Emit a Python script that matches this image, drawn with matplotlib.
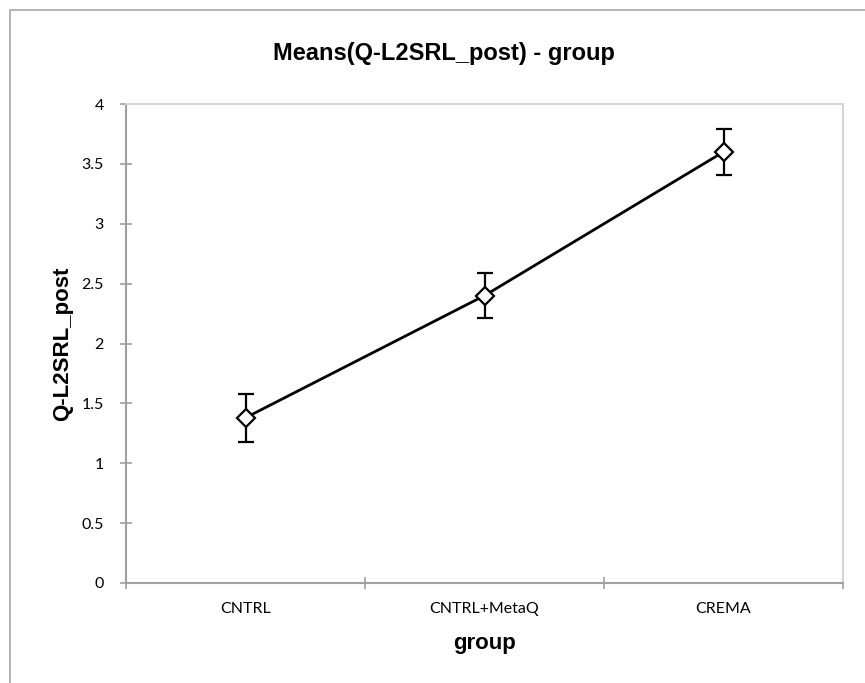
import matplotlib
matplotlib.use("Agg")
import matplotlib.pyplot as plt
from matplotlib.patches import Rectangle

# data
groups = ["CNTRL", "CNTRL+MetaQ", "CREMA"]
means = [1.38, 2.40, 3.60]
errors = [0.20, 0.19, 0.19]
y_ticks = [0, 0.5, 1, 1.5, 2, 2.5, 3, 3.5, 4]
y_tick_labels = ["0", "0.5", "1", "1.5", "2", "2.5", "3", "3.5", "4"]

W, H = 865, 683
fig = plt.figure(figsize=(W / 100, H / 100), dpi=100)

# outer chart border (cut off at right and bottom)
fig.patches.append(Rectangle((10 / W, -0.1), 1.2, 1 - 10 / H + 0.1,
                             transform=fig.transFigure, fill=False,
                             edgecolor="#a6a6a6", linewidth=1.2))

ax = fig.add_axes([126 / W, 1 - 583 / H, (843 - 126) / W, (583 - 104) / H])

xs = [i + 0.5 for i in range(len(groups))]
ax.errorbar(xs, means, yerr=errors, fmt="none", ecolor="black",
            elinewidth=1.6, capsize=6, capthick=1.6, zorder=3)
ax.plot(xs, means, color="black", linewidth=2, marker="D", markersize=9,
        markerfacecolor="white", markeredgecolor="black",
        markeredgewidth=1.6, zorder=4)

ax.set_xlim(0, len(groups))
ax.set_ylim(0, 4)

ax.set_yticks(y_ticks)
ax.set_yticklabels(y_tick_labels, family="Lato", fontsize=11.5)
ax.set_xticks(range(len(groups) + 1))
ax.set_xticklabels([])
ax.set_xticks(xs, minor=True)
ax.set_xticklabels(groups, minor=True, family="Lato", fontsize=11.5)
ax.tick_params(axis="both", which="major", direction="inout", length=8,
               width=1.2, color="#a0a0a0")
ax.tick_params(axis="y", which="major", pad=12)
ax.tick_params(axis="x", which="minor", length=0, pad=14)

for side in ["left", "bottom"]:
    ax.spines[side].set_color("#a0a0a0")
    ax.spines[side].set_linewidth(1.5)
for side in ["top", "right"]:
    ax.spines[side].set_color("#d4d4d4")
    ax.spines[side].set_linewidth(1.5)

ax.set_xlabel("group", family="Liberation Sans", fontweight="bold",
              fontsize=16, va="center")
ax.xaxis.set_label_coords(0.5, -(644 - 583) / 479)
ax.set_ylabel("Q-L2SRL_post", family="Liberation Sans", fontweight="bold",
              fontsize=16, va="center")
ax.yaxis.set_label_coords(-(126 - 63) / 717, 0.5)

fig.text(444 / W, 1 - 60 / H, "Means(Q-L2SRL_post) - group",
         family="Liberation Sans", fontweight="bold", fontsize=17,
         ha="center", va="baseline")

fig.savefig("out.png", dpi=100)
